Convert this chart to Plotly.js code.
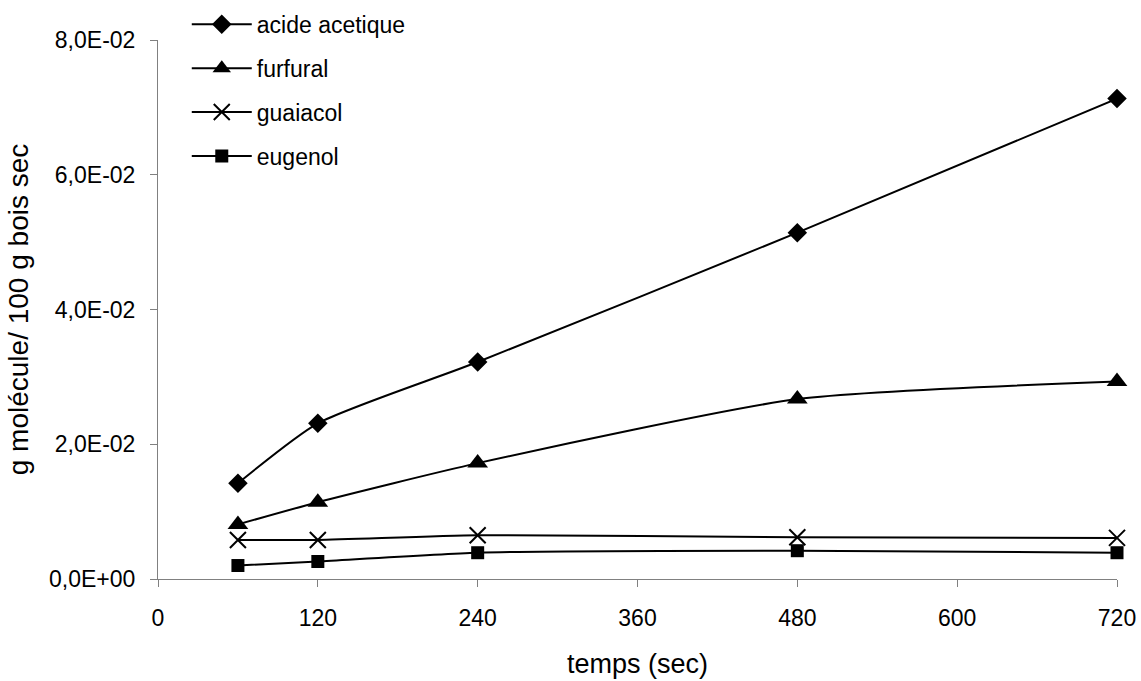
<!DOCTYPE html>
<html>
<head>
<meta charset="utf-8">
<script src="https://cdn.plot.ly/plotly-3.0.1.min.js"></script>
<style>html,body{margin:0;padding:0;background:#fff;}#chart{width:1141px;height:681px;}</style>
</head>
<body>
<div id="chart"></div>
<script>
var temps = [60, 120, 240, 480, 720];
var acideAcetique = [0.0142, 0.0231, 0.0322, 0.0514, 0.0713];
var furfural = [0.0081, 0.0114, 0.0172, 0.0267, 0.0293];
var guaiacol = [0.0058, 0.0058, 0.0065, 0.0062, 0.0061];
var eugenol = [0.0020, 0.0026, 0.0039, 0.0042, 0.0039];
var seriesNames = ["acide acetique", "furfural", "guaiacol", "eugenol"];
var xTickVals = [0, 120, 240, 360, 480, 600, 720];
var yTickVals = [0, 0.02, 0.04, 0.06, 0.08];
var yTickText = ["0,0E+00", "2,0E-02", "4,0E-02", "6,0E-02", "8,0E-02"];

var FONT = "Liberation Sans, Arial, sans-serif";
var series = [acideAcetique, furfural, guaiacol, eugenol];
var symbols = ["diamond", "triangle-up", "x-thin-open", "square"];
var sizes = [15, 18, 16, 13];

var traces = series.map(function (ys, i) {
  return {
    x: temps, y: ys, name: seriesNames[i], type: "scatter", mode: "lines+markers",
    legendgroup: "g" + i, cliponaxis: false,
    line: {color: "#000", width: 2, shape: "spline", smoothing: 0.6},
    marker: {symbol: symbols[i], size: sizes[i], color: "#000", line: {color: "#000", width: symbols[i] === "x-thin-open" ? 2 : 0}}
  };
});

var layout = {
  width: 1141, height: 681,
  margin: {l: 158, r: 24, t: 40, b: 102, autoexpand: false},
  paper_bgcolor: "#fff", plot_bgcolor: "#fff",
  font: {family: FONT, color: "#000", size: 23},
  showlegend: true,
  legend: {x: 0.03, y: 1.069, xanchor: "left", yanchor: "top", bgcolor: "rgba(0,0,0,0)",
           font: {family: FONT, size: 23, color: "#000"}, tracegroupgap: 11, itemwidth: 60, traceorder: "grouped"},
  xaxis: {range: [0, 720], tickvals: xTickVals, ticks: "outside", ticklen: 7, tickcolor: "#808080",
          showline: true, linecolor: "#808080", linewidth: 1, showgrid: false, zeroline: false,
          tickfont: {family: FONT, size: 23, color: "#000"}, ticklabelstandoff: 11,
          title: {text: "temps (sec)", font: {family: FONT, size: 27, color: "#000"}, standoff: 24}},
  yaxis: {range: [0, 0.08], tickvals: yTickVals, ticktext: yTickText, ticks: "outside", ticklen: 7, tickcolor: "#808080",
          showline: true, linecolor: "#808080", linewidth: 1, showgrid: false, zeroline: false,
          tickfont: {family: FONT, size: 23, color: "#000"}, ticklabelstandoff: 10,
          title: {text: "g molécule/ 100 g bois sec", font: {family: FONT, size: 28, color: "#000"}, standoff: 12}}
};

Plotly.newPlot("chart", traces, layout, {displayModeBar: false, staticPlot: true});
</script>
</body>
</html>
